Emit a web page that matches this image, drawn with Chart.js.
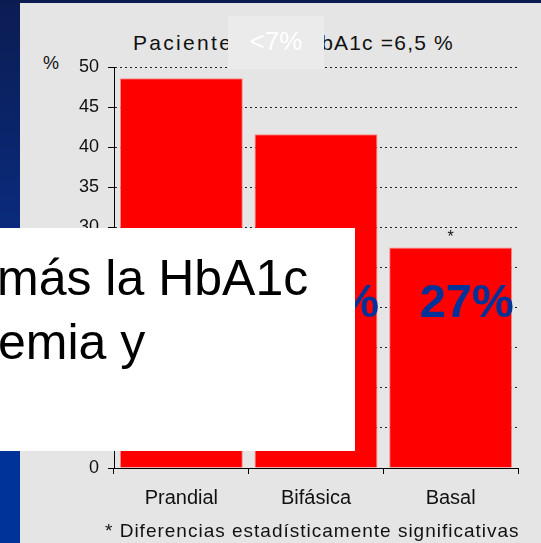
<!DOCTYPE html>
<html>
<head>
<meta charset="utf-8">
<script src="https://cdn.jsdelivr.net/npm/chart.js@4"></script>
<style>
  html, body { margin: 0; padding: 0; }
  body {
    width: 541px; height: 543px; position: relative; overflow: hidden;
    background: linear-gradient(to bottom, #0b1c52 0%, #0a2a7a 40%, #003399 75%, #003399 100%);
    font-family: "Liberation Sans", Arial, sans-serif;
  }
  .panel { position: absolute; left: 20px; top: 3px; right: 0; bottom: 0; background: #e5e5e5; }
  #wrap { position: absolute; left: 0; top: 0; width: 541px; height: 543px; }
  .txt { position: absolute; white-space: nowrap; line-height: 1; color: #111; }
  .title { top: 32px; font-size: 21px; letter-spacing: 1.2px; }
  .foot { left: 105px; top: 521px; font-size: 19px; letter-spacing: 1px; }
  .unit { left: 43px; top: 54px; font-size: 18px; }
  .tag {
    position: absolute; left: 228px; top: 16px; width: 96px; height: 53px;
    background: #ebebeb; color: #fff; font-size: 26px; line-height: 1;
  }
  .tag span { position: absolute; left: 0; width: 100%; text-align: center; top: 12px; }
  .note {
    position: absolute; left: 0; top: 228px; width: 355px; height: 223px;
    background: #fff; overflow: hidden; color: #000; font-size: 50px;
  }
  .note div { position: absolute; left: -3px; line-height: 1; white-space: nowrap; }
</style>
</head>
<body>
<div class="panel"></div>
<div class="txt title" style="left:133px; letter-spacing:2.3px">Pacientes con H</div>
<div class="txt title" style="right:87px">bA1c =6,5 %</div>
<div class="txt unit">%</div>
<div id="wrap"><canvas id="chart" width="541" height="543"></canvas></div>
<div class="txt foot">* Diferencias estadísticamente significativas</div>
<div class="tag"><span>&lt;7%</span></div>
<div class="note">
  <div style="top:25px">más la HbA1c</div>
  <div style="top:89px; left:-2px">emia y</div>
</div>
<script>
// Datos
const categories = ['Prandial', 'Bifásica', 'Basal'];
const values = [48.6, 41.6, 27.5];
const barLabels = ['49%', '42%', '27%'];
const significance = ['', '', '*'];
const yTicks = [0, 5, 10, 15, 20, 25, 30, 35, 40, 45, 50];

Chart.defaults.font.family = '"Liberation Sans", Arial, sans-serif';
Chart.defaults.color = '#111';

// Etiquetas azules y asterisco sobre las barras
const barText = {
    id: 'barText',
    afterDatasetsDraw(chart) {
        const ctx = chart.ctx;
        const meta = chart.getDatasetMeta(0);
        const y = chart.scales.y;
        ctx.save();
        meta.data.forEach((bar, i) => {
            ctx.font = 'bold 47px "Liberation Sans", Arial, sans-serif';
            ctx.fillStyle = '#003399';
            ctx.textAlign = 'center';
            ctx.textBaseline = 'alphabetic';
            ctx.fillText(barLabels[i], bar.x + 16, y.getPixelForValue(18.8));
            if (significance[i]) {
                ctx.font = '16px "Liberation Sans", Arial, sans-serif';
                ctx.fillStyle = '#111';
                ctx.fillText(significance[i], bar.x, bar.y - 5);
            }
        });
        ctx.restore();
    }
};

new Chart(document.getElementById('chart').getContext('2d'), {
    type: 'bar',
    data: {
        labels: categories,
        datasets: [{
            data: values,
            backgroundColor: '#ff0000',
            borderColor: 'rgba(255,130,130,0.9)',
            borderWidth: 1,
            barPercentage: 0.913,
            categoryPercentage: 1
        }]
    },
    options: {
        responsive: false,
        animation: false,
        layout: { padding: { left: 20, top: 67, right: 23, bottom: 0 } },
        plugins: { legend: { display: false }, tooltip: { enabled: false } },
        scales: {
            x: {
                afterFit: s => { s.height = 75; },
                grid: { offset: true, drawOnChartArea: false, tickLength: 6, tickColor: '#000' },
                border: { color: '#000', width: 1 },
                ticks: { font: { size: 20 }, padding: 12, color: '#111' }
            },
            y: {
                min: 0, max: 50,
                afterFit: s => { s.width = 94; },
                afterBuildTicks: s => { s.ticks = yTicks.map(v => ({ value: v })); },
                grid: { color: '#222', lineWidth: 1, tickLength: 6, tickColor: '#000' },
                border: { color: '#000', width: 1, dash: [2, 3] },
                ticks: { font: { size: 18 }, padding: 9, color: '#111' }
            }
        }
    },
    plugins: [barText]
});
</script>
</body>
</html>
